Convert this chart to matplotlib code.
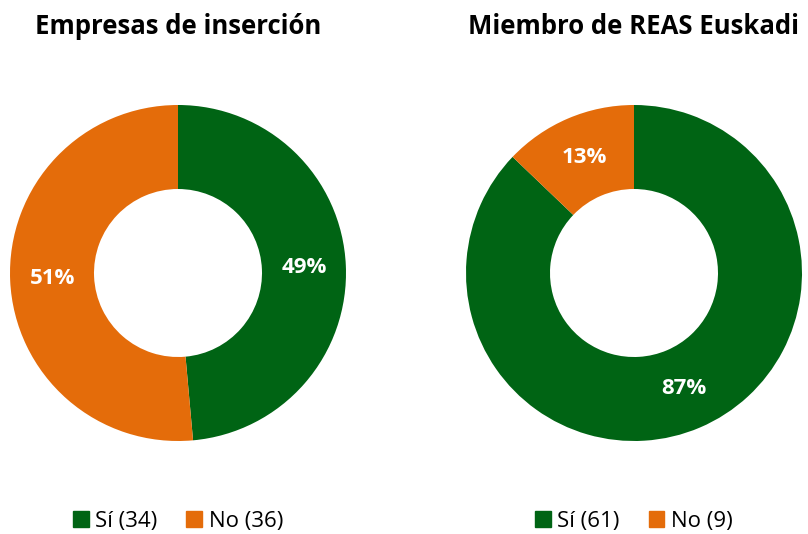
import numpy as np
import matplotlib
matplotlib.use('Agg')
from matplotlib import pyplot as plt
from matplotlib.patches import Patch

plt.rcParams['font.family'] = ['Open Sans', 'DejaVu Sans']

#data
labels = ['Sí', 'No']
empresas = [34, 36]
reas = [61, 9]
titles = ['Empresas de inserción', 'Miembro de REAS Euskadi']

green = '#006414'
orange = '#E46C0A'
colors = [green, orange]

fig = plt.figure(figsize=(8.08, 5.34), dpi=100)

#axes placed in pixels so that the donuts land where the reference has them
rects = [[10/808, 93/534, 336/808, 336/534],
         [466/808, 93/534, 336/808, 336/534]]

for rect, vals, title in zip(rects, [empresas, reas], titles):
    ax = fig.add_axes(rect)
    wedges, texts, autotexts = ax.pie(vals, colors=colors, startangle=90, counterclock=False,
                                      radius=1, wedgeprops=dict(width=0.5, linewidth=0),
                                      autopct='%1.0f%%', pctdistance=0.75)
    for t in autotexts:
        t.set_color('white')
        t.set_fontsize(16)
        t.set_fontweight('bold')
    ax.set_xlim(-1, 1)
    ax.set_ylim(-1, 1)
    ax.set_aspect('auto')
    ax.axis('off')
    cx = rect[0] + rect[2]/2
    fig.text(cx, 1 - 27/534, title, ha='center', va='center', fontsize=18.5, fontweight='bold')
    handles = [Patch(color=c, label='%s (%d)' % (l, v)) for c, l, v in zip(colors, labels, vals)]
    fig.legend(handles=handles, loc='center', bbox_to_anchor=(cx, 1 - 521/534), ncol=2,
               frameon=False, fontsize=16, handlelength=0.7, handleheight=0.7,
               handletextpad=0.3, columnspacing=1.3)

fig.savefig('out.png', dpi=100)
